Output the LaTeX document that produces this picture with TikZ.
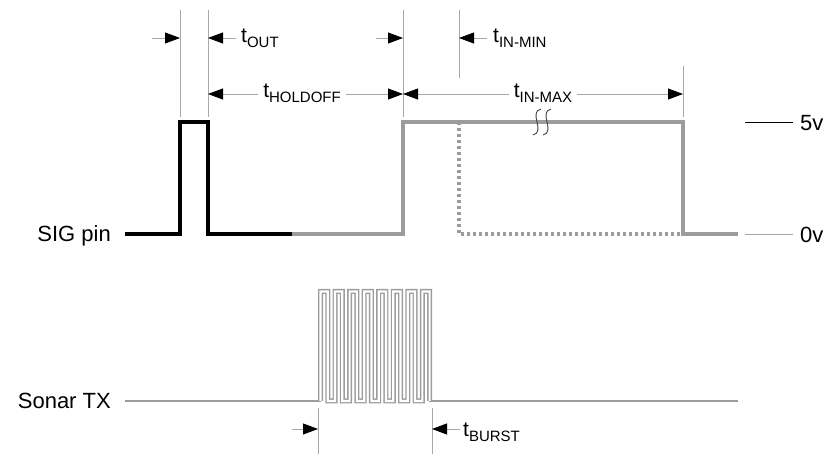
\documentclass[tikz,border=0pt]{standalone}
\usepackage{fontspec}
\setmainfont{Liberation Sans}
\usetikzlibrary{arrows.meta,positioning}
\definecolor{wavegray}{HTML}{9C9C9C}
\definecolor{guidegray}{HTML}{A8A8A8}
\newcommand{\tsub}[1]{t\raisebox{-5pt}{\fontsize{15}{15}\selectfont #1}}

\begin{document}
\begin{tikzpicture}[x=1pt,y=-1pt,
    high/.style = {line width=3.5pt, black},
    low/.style = {line width=3.5pt, wavegray},
    guide/.style = {draw=guidegray, line width=0.8pt},
    dim/.style = {guidegray, line width=0.8pt, -{Triangle[length=15pt,width=11pt,color=black]}},
    burst/.style = {draw=wavegray, double=white, line width=1.4pt, double distance=2.2pt},
    lbl/.style = {font=\fontsize{22}{22}\selectfont, inner sep=0pt},
    tlbl/.style = {font=\fontsize{21}{21}\selectfont, inner sep=0pt}]
\useasboundingbox (0,0) rectangle (828,454);

% time marks
\coordinate (outA) at (180,38);
\coordinate (outB) at (208,38);
\coordinate (inA) at (403,38);
\coordinate (inB) at (459,38);
\coordinate (holdA) at (208,94);
\coordinate (holdB) at (403,94);
\coordinate (maxA) at (403,94);
\coordinate (maxB) at (683,94);
\coordinate (burA) at (318,429);
\coordinate (burB) at (432,429);

% guide lines
\foreach \x in {180,208,403}
    \draw[guide] (\x,10) -- (\x,117);
\draw[guide] (459,10) -- (459,78);
\draw[guide] (683,66) -- (683,117);
\draw[guide] (318,408) -- (318,454);
\draw[guide] (432,408) -- (432,454);

% t_out, t_in-min
\draw[dim] (152,38) -- (outA);
\draw[dim] (236,38) -- (outB);
\node[tlbl, anchor=base west] (tout) at (241,43) {\tsub{OUT}};
\draw[dim] (376,38) -- (inA);
\draw[dim] (487,38) -- (inB);
\node[tlbl, anchor=base west] (tmin) at (493,43) {\tsub{IN-MIN}};

% t_holdoff, t_in-max
\node[tlbl, anchor=base] (hold) at (302,98) {\tsub{HOLDOFF}};
\draw[dim] ([xshift=-5pt,yshift=4pt]hold.base west) -- (holdA);
\draw[dim] ([xshift=5pt,yshift=4pt]hold.base east) -- (holdB);
\node[tlbl, anchor=base] (max) at (543,98) {\tsub{IN-MAX}};
\draw[dim] ([xshift=-5pt,yshift=4pt]max.base west) -- (maxA);
\draw[dim] ([xshift=5pt,yshift=4pt]max.base east) -- (maxB);

% SIG pin
\node[lbl, anchor=east] (sig) at (111,236) {SIG pin};
\draw[low, dash pattern=on 3pt off 3pt] (459,122) -- (459,234) -- (683,234);
\draw[high] (125,234) -- (180,234) -- (180,122) -- (208,122) -- (208,234) -- (292,234);
\draw[low] (292,234) -- (403,234) -- (403,122) -- (683,122) -- (683,234) -- (738,234);
\foreach \x in {537,547}
    \draw[black!75, line width=0.9pt] (\x+4,109) .. controls (\x-9,112) and (\x+9,132) .. (\x-4,135);

% levels
\draw[black, line width=0.8pt] (745,122) -- (793,122);
\draw[guidegray, line width=0.8pt] (745,234) -- (793,234);
\node[lbl, anchor=west] (five) at (800,123) {5v};
\node[lbl, anchor=west] (zero) at (800,235) {0v};

% Sonar TX
\node[lbl, anchor=east] (sonar) at (111,401) {Sonar TX};
\draw[wavegray, line width=2.5pt] (125,401) -- (321,401);
\draw[wavegray, line width=2.5pt] (429,401) -- (738,401);
\draw[burst] (320.5,401) \foreach \k in {0,...,6} {
    -- ({320.5+\k*14.55},291.5) -- ({327.78+\k*14.55},291.5)
    -- ({327.78+\k*14.55},401) -- ({335.05+\k*14.55},401) }
    -- (422.35,291.5) -- (429.63,291.5) -- (429.63,401);

% t_burst
\draw[dim] (292,429) -- (burA);
\draw[dim] (460,429) -- (burB);
\node[tlbl, anchor=base west] (tbur) at (463,437) {\tsub{BURST}};
\end{tikzpicture}
\end{document}
